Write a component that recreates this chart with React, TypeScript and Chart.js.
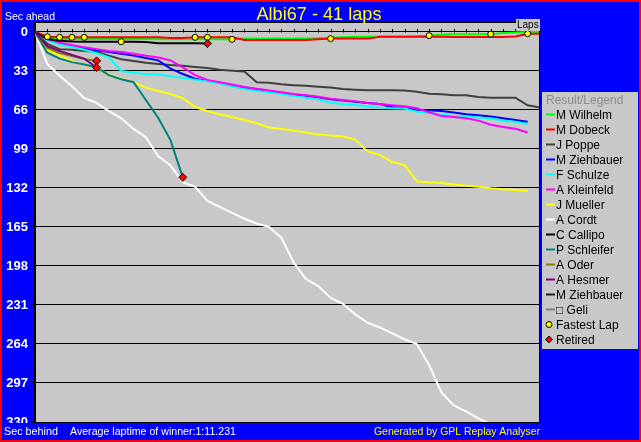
import React, { useEffect, useRef } from 'react';
import { Chart, registerables } from 'chart.js';

Chart.register(...registerables);

// ---------- data ----------
const lapNumbers = [0, 1, 2, 3, 4, 5, 6, 7, 8, 9, 10, 11, 12, 13, 14, 15, 16, 17, 18, 19, 20,
  21, 22, 23, 24, 25, 26, 27, 28, 29, 30, 31, 32, 33, 34, 35, 36, 37, 38, 39, 40, 41];

const yTickValues = [0, 33, 66, 99, 132, 165, 198, 231, 264, 297, 330];

const driverNames = ['M Wilhelm', 'M Dobeck', 'J Poppe', 'M Ziehbauer', 'F Schulze', 'A Kleinfeld',
  'J Mueller', 'A Cordt', 'C Callipo', 'P Schleifer', 'A Oder', 'A Hesmer', 'M Ziehbauer', '\u25A1 Geli'];

const driverColors = ['#00FF00', '#FF0000', '#404040', '#0000FF', '#00FFFF', '#FF00FF',
  '#FFFF00', '#FFFFFF', '#000000', '#008080', '#808000', '#800080', '#202020', '#808080'];

// seconds behind, per lap (lap 0 .. last lap completed)
const mWilhelm = [0, 5.5, 6, 6, 6, 6, 6, 6, 6, 6, 6.2, 6.2, 6.2, 6.2, 6.2, 6.2, 6.2, 5.6, 5.6, 5.6, 5.6,
  5.6, 5.6, 5.2, 4.8, 4.4, 4, 4, 4, 4, 4, 3.6, 3.1, 2.2, 2, 2, 2, 1.8, 0.8, 0.5, 0, 0];
const mDobeck = [0, 4, 4.5, 4.5, 4.5, 4.5, 4.5, 4.5, 4.5, 4.5, 4.5, 5, 5, 4.5, 4.5, 4.5, 4.5, 6.8, 6.8, 6.8, 6.8,
  6.8, 6.8, 6.2, 5.6, 5.6, 5.6, 5.6, 4, 4, 4, 4, 4, 4, 4.2, 4.2, 4.2, 4.2, 4.2, 3.8, 1.4, 1.4];
const jPoppe = [0, 10, 14.5, 15, 16, 16.7, 20, 23, 24.5, 26, 27, 28, 28.5, 29.6, 30.5, 32, 32.7, 33.5, 42.5, 43, 44.3,
  45, 45.5, 46.3, 47, 48.3, 48.8, 49.2, 49.2, 49.2, 49.5, 50.5, 52.3, 52.6, 53.5, 53.5, 55, 55.6, 55.6, 55.6, 62, 64];
const mZiehbauer = [0, 6.5, 10, 12, 14, 15.5, 17, 18.5, 20, 22, 24, 31, 35.5, 39.5, 41.5, 43, 45.5, 47, 48.5, 50, 51.5,
  53, 54, 55.3, 57, 58, 59, 60, 61, 63.5, 64.5, 65.8, 66.3, 66.8, 68.2, 69.5, 70.4, 71.4, 73, 74.5, 75.9];
const fSchulze = [0, 7, 10.5, 12.5, 15, 18, 21.5, 33, 34.5, 35.5, 36, 37.2, 39, 40.3, 41.7, 43.5, 46, 48.2, 50, 51, 52.5,
  54.2, 55.6, 57, 59.8, 61, 61.8, 63, 64, 64.5, 64.8, 67.4, 68.5, 70, 71, 71.6, 72.3, 73.2, 75, 76, 77.8];
const aKleinfeld = [0, 6, 9, 11, 13, 14.5, 16, 17, 18.5, 20, 21.5, 24, 30, 36.5, 40.5, 42.5, 44.5, 46.5, 48, 49.5, 51,
  52.5, 53.5, 54.8, 56.5, 57.5, 58.5, 60, 61, 62, 62.8, 64.5, 68, 71, 72, 73, 75, 78.5, 80.4, 81.8, 85];
const jMueller = [0, 15, 20, 24.5, 28, 30.5, 36, 39.5, 42.7, 47, 50, 52.5, 56, 63.5, 66.8, 69.8, 72, 74.5, 77.2, 80.8, 82,
  83.3, 85, 86.7, 87.6, 88.4, 91, 101, 104, 110, 112.5, 126.5, 127.2, 127.8, 129, 130, 131, 132.2, 133, 133.7, 134.3];
const aCordt = [0, 27, 37, 46, 56, 60, 67, 73, 82, 89, 105, 113, 127, 131, 143, 148, 153, 158, 162, 165, 174,
  195, 209, 215, 225, 230, 239, 246, 250, 255, 260, 264, 282, 305, 316, 321, 327, 332];
const cCallipo = [0, 6, 7.5, 8, 8.2, 8.2, 8.2, 8.2, 8.2, 8.5, 9.6, 9.6, 9.6, 9.6, 9.8];
const pSchleifer = [0, 17.5, 22.5, 25.5, 27.5, 30, 36.5, 40, 42.5, 57.5, 72.5, 91.5, 123];
const aOder = [0, 13.5, 17.8, 20.3, 22.8, 24.5];
const aHesmer = [0, 12, 16, 19.5, 22.5, 30];
const mZiehbauer2: number[] = [];
const geli: number[] = [];

const seriesByDriver = [mWilhelm, mDobeck, jPoppe, mZiehbauer, fSchulze, aKleinfeld, jMueller, aCordt,
  cCallipo, pSchleifer, aOder, aHesmer, mZiehbauer2, geli];

// fastest-lap markers: which driver, on which lap
const fastestLapDriver = [1, 1, 1, 1, 8, 1, 1, 0, 1, 0, 0, 1];
const fastestLapLap = [1, 2, 3, 4, 7, 13, 14, 16, 24, 32, 37, 40];
// drivers that retired (marker at their last lap)
const retiredDrivers = [8, 9, 10, 11];

const titleText = 'Albi67 - 41 laps';
const winnerText = 'Average laptime of winner:1:11.231';

const FONT = 'Arial, "Liberation Sans", Helvetica, sans-serif';

const BLUE = '#0000FF';
const GRAY = '#C8C8C8';

function drawDiamond(ctx: CanvasRenderingContext2D, x: number, y: number, r: number) {
  ctx.beginPath();
  ctx.moveTo(x, y - r);
  ctx.lineTo(x + r, y);
  ctx.lineTo(x, y + r);
  ctx.lineTo(x - r, y);
  ctx.closePath();
  ctx.fillStyle = '#FF0000';
  ctx.fill();
  ctx.strokeStyle = '#000';
  ctx.lineWidth = 1;
  ctx.stroke();
}

const framePlugin = {
  id: 'gplFrame',
  beforeDraw(chart: any) {
    const { ctx, width, height, chartArea: a } = chart;
    ctx.save();
    ctx.fillStyle = '#FF0000';
    ctx.fillRect(0, 0, width, height);
    ctx.fillStyle = BLUE;
    ctx.fillRect(2, 2, width - 4, height - 4);
    ctx.fillStyle = GRAY;
    ctx.fillRect(a.left, a.top, a.right - a.left, a.bottom - a.top);
    ctx.restore();
  },
  beforeDatasetsDraw(chart: any) {
    const { ctx } = chart;
    const xs = chart.scales.x;
    const ys = chart.scales.y;
    const y0 = Math.round(ys.getPixelForValue(0));
    ctx.save();
    ctx.strokeStyle = '#000';
    ctx.lineWidth = 1;
    ctx.beginPath();
    lapNumbers.forEach((l) => {
      const px = Math.round(xs.getPixelForValue(l)) + 0.5;
      ctx.moveTo(px, y0 - 3);
      ctx.lineTo(px, y0 + 0.5);
    });
    ctx.stroke();
    ctx.restore();
  },
  afterDraw(chart: any) {
    const { ctx, chartArea: a } = chart;
    ctx.save();
    // plot border
    ctx.strokeStyle = '#000';
    ctx.lineWidth = 1;
    ctx.strokeRect(a.left - 0.5, a.top + 0.5, a.right - a.left, a.bottom - a.top);

    // bottom band
    ctx.fillStyle = BLUE;
    ctx.fillRect(2, a.bottom + 1, chart.width - 4, chart.height - a.bottom - 3);

    ctx.textAlign = 'left';
    ctx.textBaseline = 'alphabetic';
    ctx.font = `11px ${FONT}`;
    ctx.fillStyle = '#FFFFFF';
    ctx.fillText('Sec ahead', 5, 19.5, 50);
    ctx.fillText('Sec behind', 4, 435, 54);
    ctx.fillText(winnerText, 70, 435, 166);
    ctx.fillStyle = '#FFFF00';
    ctx.fillText('Generated by GPL Replay Analyser', 374, 435, 166);

    // title
    ctx.font = `19px ${FONT}`;
    ctx.textAlign = 'center';
    ctx.fillStyle = '#FFFF00';
    ctx.fillText(titleText, 319, 20, 125);

    // Laps box
    ctx.fillStyle = GRAY;
    ctx.fillRect(516, 19, 24, 12);
    ctx.fillStyle = '#000';
    ctx.font = `10px ${FONT}`;
    ctx.textAlign = 'left';
    ctx.fillText('Laps', 517, 28, 22);

    // legend
    const lx = 542, ly = 92, lw = 96, lh = 257;
    ctx.fillStyle = GRAY;
    ctx.fillRect(lx, ly, lw, lh);
    ctx.font = `12px ${FONT}`;
    ctx.fillStyle = '#8C8C8C';
    ctx.fillText('Result/Legend', 546, 103.5, 82);
    chart.data.datasets.forEach((ds: any, i: number) => {
      const cy = 114.5 + 15 * i;
      if (i < driverNames.length) {
        ctx.fillStyle = ds.borderColor;
        ctx.fillRect(546, cy - 1, 9, 2);
      } else if (ds.label === 'Fastest Lap') {
        ctx.beginPath();
        ctx.arc(549, cy, 3, 0, Math.PI * 2);
        ctx.fillStyle = '#FFFF00';
        ctx.fill();
        ctx.strokeStyle = '#000';
        ctx.lineWidth = 1;
        ctx.stroke();
      } else {
        drawDiamond(ctx, 549, cy, 3.5);
      }
      ctx.fillStyle = '#000';
      ctx.fillText(ds.label, 556, cy + 4.2);
    });
    ctx.restore();
  },
};

export default function App() {
  const canvasRef = useRef<HTMLCanvasElement>(null);

  useEffect(() => {
    document.body.style.margin = '0';
    const canvas = canvasRef.current;
    if (!canvas) return;

    const toPoints = (arr: number[]) => arr.map((v, i) => ({ x: lapNumbers[i], y: v }));

    const datasets: any[] = driverNames.map((name, i) => ({
      type: 'line',
      label: name,
      data: toPoints(seriesByDriver[i]),
      borderColor: driverColors[i],
      backgroundColor: driverColors[i],
      borderWidth: 2,
      pointRadius: 0,
      tension: 0,
      fill: false,
      order: -i,
    }));

    datasets.push({
      type: 'line',
      label: 'Fastest Lap',
      data: fastestLapLap.map((lap, k) => ({ x: lap, y: seriesByDriver[fastestLapDriver[k]][lap] })),
      showLine: false,
      pointStyle: 'circle',
      pointRadius: 3,
      backgroundColor: '#FFFF00',
      borderColor: '#000000',
      borderWidth: 1,
      order: -100,
    });

    datasets.push({
      type: 'line',
      label: 'Retired',
      data: retiredDrivers.map((d) => {
        const s = seriesByDriver[d];
        return { x: lapNumbers[s.length - 1], y: s[s.length - 1] };
      }),
      showLine: false,
      pointStyle: 'rectRot',
      pointRadius: 4,
      backgroundColor: '#FF0000',
      borderColor: '#000000',
      borderWidth: 1,
      order: -101,
    });

    const chart = new Chart(canvas, {
      type: 'line',
      data: { datasets },
      options: {
        animation: false,
        responsive: false,
        maintainAspectRatio: false,
        devicePixelRatio: 1,
        events: [],
        layout: { padding: { top: 22, bottom: 20, left: 0, right: 101 } },
        plugins: {
          legend: { display: false },
          title: { display: false },
          tooltip: { enabled: false },
        },
        scales: {
          x: { type: 'linear', min: 0, max: 41, display: false },
          y: {
            type: 'linear',
            reverse: true,
            min: -8.46,
            max: 330,
            afterFit: (s: any) => { s.width = 35; },
            afterBuildTicks: (s: any) => { s.ticks = yTickValues.map((v) => ({ value: v })); },
            grid: { color: '#000000', lineWidth: 1, tickLength: 4, drawTicks: true },
            border: { color: '#000000', width: 1 },
            ticks: {
              color: '#FFFFFF',
              font: { family: FONT, size: 13, weight: 'bold' },
              padding: 3,
              autoSkip: false,
            },
          },
        },
      } as any,
      plugins: [framePlugin],
    });

    return () => chart.destroy();
  }, []);

  return (
    <div style={{ position: 'absolute', left: 0, top: 0, width: 641, height: 442 }}>
      <canvas ref={canvasRef} width={641} height={442} style={{ display: 'block', width: 641, height: 442 }} />
    </div>
  );
}
